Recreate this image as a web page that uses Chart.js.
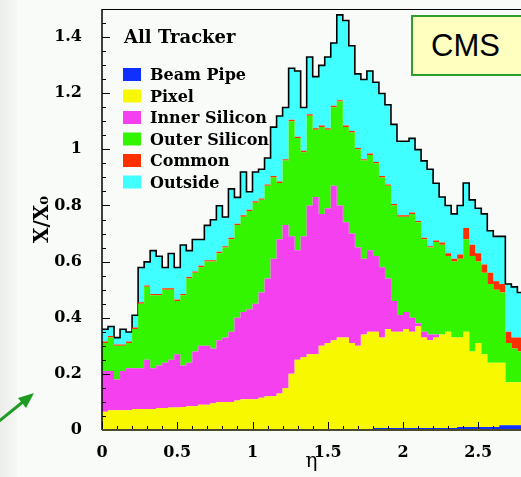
<!DOCTYPE html>
<html>
<head>
<meta charset="utf-8">
<title>All Tracker material budget</title>
<script src="https://cdn.jsdelivr.net/npm/chart.js@4.4.1/dist/chart.umd.min.js"></script>
<style>
  html, body { margin: 0; padding: 0; overflow: hidden; background: #f9fbf9; }
  .page { position: relative; width: 521px; height: 477px; }
  .page canvas { position: absolute; left: 0; top: 0; }
  .strip { position: absolute; left: 0; top: 0; width: 17px; height: 477px; background: linear-gradient(to right, #eceeec, #f5f7f5); }
  .cms { position: absolute; left: 411px; top: 15px; width: 130px; height: 57px; padding-left: 18px;
         background: #ffffbf; border: 2px solid #2e9e2e; font: 31px/57px "Liberation Sans", Arial, sans-serif; color: #000; }
  .arrow { position: absolute; left: 0; top: 380px; }
</style>
</head>
<body>
<div class="page">
  <div class="strip"></div>
  <canvas id="materialChart" width="521" height="477"></canvas>
  <div class="cms">CMS</div>
  <svg class="arrow" width="50" height="60" viewBox="0 380 50 60">
    <line x1="-2" y1="422" x2="24" y2="401" stroke="#1c9c22" stroke-width="3"/>
    <polygon points="34,393 18,398 26,408" fill="#1c9c22"/>
  </svg>
</div>
<script>
// eta bins, 0.04 wide
const binWidth = 0.04;
const etaEdges = Array.from({ length: 71 }, (_, i) => +(i * binWidth).toFixed(2));

// X/X0 per bin for each layer
const beamPipe = [
  0, 0, 0, 0, 0, 0, 0, 0, 0, 0,
  0, 0, 0, 0, 0, 0, 0, 0, 0, 0,
  0, 0, 0, 0, 0, 0, 0, 0, 0, 0,
  0, 0, 0, 0, 0, 0, 0, 0, 0, 0,
  0, 0, 0, 0, 0, 0.007, 0.007, 0.007, 0.007, 0.007,
  0.007, 0.007, 0.007, 0.007, 0.007, 0.007, 0.007, 0.007, 0.007, 0.011,
  0.011, 0.011, 0.011, 0.011, 0.011, 0.011, 0.017, 0.017, 0.017, 0.017
];
const pixel = [
  0.065, 0.07, 0.07, 0.07, 0.07, 0.075, 0.075, 0.075, 0.075, 0.078,
  0.078, 0.08, 0.08, 0.082, 0.085, 0.085, 0.09, 0.09, 0.095, 0.10,
  0.10, 0.10, 0.105, 0.11, 0.11, 0.11, 0.115, 0.12, 0.12, 0.13,
  0.15, 0.20, 0.25, 0.26, 0.27, 0.27, 0.30, 0.31, 0.32, 0.33,
  0.33, 0.31, 0.30, 0.34, 0.35, 0.343, 0.323, 0.353, 0.343, 0.343,
  0.353, 0.343, 0.363, 0.323, 0.313, 0.323, 0.333, 0.343, 0.323, 0.319,
  0.339, 0.269, 0.299, 0.259, 0.229, 0.229, 0.223, 0.153, 0.153, 0.153
];
const innerSilicon = [
  0.145, 0.14, 0.11, 0.14, 0.15, 0.145, 0.145, 0.175, 0.145, 0.152,
  0.162, 0.17, 0.19, 0.148, 0.155, 0.195, 0.21, 0.21, 0.195, 0.22,
  0.23, 0.25, 0.295, 0.31, 0.32, 0.34, 0.375, 0.42, 0.49, 0.55,
  0.58, 0.49, 0.39, 0.43, 0.53, 0.56, 0.47, 0.48, 0.55, 0.47,
  0.41, 0.39, 0.35, 0.27, 0.29, 0.27, 0.25, 0.18, 0.11, 0.06,
  0.06, 0.05, 0.01, 0.02, 0.02, 0.01, 0, 0, 0, 0,
  0, 0, 0, 0, 0, 0, 0, 0, 0, 0
];
const outerSilicon = [
  0.10, 0.12, 0.12, 0.09, 0.09, 0.14, 0.23, 0.26, 0.26, 0.25,
  0.26, 0.25, 0.19, 0.25, 0.30, 0.28, 0.28, 0.30, 0.31, 0.31,
  0.32, 0.33, 0.33, 0.34, 0.35, 0.36, 0.33, 0.33, 0.29, 0.20,
  0.23, 0.41, 0.40, 0.30, 0.32, 0.24, 0.31, 0.28, 0.28, 0.37,
  0.34, 0.36, 0.35, 0.35, 0.34, 0.33, 0.32, 0.33, 0.34, 0.35,
  0.34, 0.37, 0.36, 0.33, 0.31, 0.33, 0.32, 0.27, 0.27, 0.28,
  0.33, 0.34, 0.29, 0.29, 0.28, 0.26, 0.25, 0.14, 0.12, 0.11
];
const common = [
  0.005, 0.005, 0.005, 0.005, 0.005, 0.005, 0.005, 0.005, 0.005, 0.005,
  0.005, 0.005, 0.005, 0.005, 0.005, 0.005, 0.005, 0.005, 0.005, 0.005,
  0.005, 0.005, 0.005, 0.005, 0.005, 0.005, 0.005, 0.005, 0.005, 0.005,
  0.005, 0.005, 0.005, 0.005, 0.005, 0.005, 0.005, 0.005, 0.005, 0.005,
  0.005, 0.005, 0.005, 0.005, 0.005, 0.005, 0.005, 0.005, 0.005, 0.005,
  0.005, 0.005, 0.005, 0.005, 0.005, 0.005, 0.008, 0.01, 0.01, 0.015,
  0.04, 0.04, 0.03, 0.03, 0.04, 0.03, 0.03, 0.04, 0.04, 0.05
];
const outside = [
  0.044, 0.034, 0.024, 0.054, 0.034, 0.044, 0.124, 0.084, 0.154, 0.134,
  0.074, 0.124, 0.114, 0.174, 0.094, 0.114, 0.094, 0.124, 0.144, 0.164,
  0.104, 0.174, 0.094, 0.154, 0.064, 0.104, 0.104, 0.094, 0.174, 0.234,
  0.184, 0.184, 0.234, 0.154, 0.204, 0.184, 0.214, 0.254, 0.224, 0.304,
  0.374, 0.304, 0.264, 0.284, 0.294, 0.284, 0.294, 0.284, 0.284, 0.264,
  0.264, 0.264, 0.254, 0.274, 0.274, 0.204, 0.162, 0.17, 0.16, 0.175,
  0.16, 0.16, 0.16, 0.18, 0.15, 0.16, 0.17, 0.17, 0.18, 0.16
];

const layerNames = ['Beam Pipe', 'Pixel', 'Inner Silicon', 'Outer Silicon', 'Common', 'Outside'];
const layerColors = ['#1030ff', '#f8f800', '#f540f0', '#33f500', '#ff3000', '#40ffff'];
const layers = [beamPipe, pixel, innerSilicon, outerSilicon, common, outside];

const xLabels = [0, 0.5, 1, 1.5, 2, 2.5];
const yLabels = [0, 0.2, 0.4, 0.6, 0.8, 1, 1.2, 1.4];

const near = (v, list) => list.some(t => Math.abs(t - v) < 1e-6);
const onStep = (v, s) => Math.abs(v / s - Math.round(v / s)) < 1e-6;

// histogram as step line: left edge of every bin + closing right edge
function toSteps(vals) {
  const pts = vals.map((v, i) => ({ x: etaEdges[i], y: v }));
  pts.push({ x: etaEdges[vals.length], y: vals[vals.length - 1] });
  return pts;
}

const tickFont = { family: 'DejaVu Serif', weight: 'bold', size: 16 };

// legend sits inside the frame, under the histogram
const boxLegend = {
  id: 'boxLegend',
  beforeDatasetsDraw(chart) {
    const { ctx } = chart;
    ctx.save();
    ctx.fillStyle = '#000';
    ctx.font = 'bold 18px "DejaVu Serif"';
    ctx.fillText('All Tracker', 124, 43);
    ctx.font = 'bold 16px "DejaVu Serif"';
    chart.data.datasets.forEach((ds, i) => {
      const base = 80 + i * 21.5;
      ctx.fillStyle = ds.backgroundColor;
      ctx.fillRect(123, base - 12, 18, 13);
      ctx.fillStyle = '#000';
      ctx.fillText(ds.label, 150, base);
    });
    ctx.restore();
  }
};

// ROOT style inward ticks + frame
const frame = {
  id: 'frame',
  afterDatasetsDraw(chart) {
    const { ctx, chartArea: a, scales: { x, y } } = chart;
    ctx.save();
    ctx.strokeStyle = '#000';
    ctx.lineWidth = 1;
    y.ticks.forEach(t => {
      if (!onStep(t.value, 0.05)) return;
      const py = Math.round(y.getPixelForValue(t.value)) + 0.5;
      const len = near(t.value, yLabels) ? 8 : 4;
      ctx.beginPath();
      ctx.moveTo(a.left, py);
      ctx.lineTo(a.left + len, py);
      ctx.stroke();
    });
    x.ticks.forEach(t => {
      if (!onStep(t.value, 0.1)) return;
      const px = Math.round(x.getPixelForValue(t.value)) + 0.5;
      const len = near(t.value, xLabels) ? 8 : 4;
      ctx.beginPath();
      ctx.moveTo(px, a.bottom);
      ctx.lineTo(px, a.bottom - len);
      ctx.stroke();
    });
    ctx.beginPath();
    ctx.moveTo(a.left, a.top + 0.5);
    ctx.lineTo(a.right, a.top + 0.5);
    ctx.stroke();
    ctx.lineWidth = 1.5;
    ctx.beginPath();
    ctx.moveTo(a.left, a.top);
    ctx.lineTo(a.left, a.bottom);
    ctx.stroke();
    ctx.strokeStyle = '#4b4b2c';
    ctx.lineWidth = 2;
    ctx.beginPath();
    ctx.moveTo(a.left, a.bottom);
    ctx.lineTo(a.right, a.bottom);
    ctx.stroke();
    ctx.restore();
  }
};

new Chart(document.getElementById('materialChart'), {
  type: 'line',
  data: {
    datasets: layers.map((vals, i) => ({
      label: layerNames[i],
      data: toSteps(vals),
      backgroundColor: layerColors[i],
      borderColor: i === 5 ? '#000' : 'transparent',
      borderWidth: i === 5 ? 1.6 : 0,
      fill: i === 0 ? 'origin' : '-1',
      stepped: true,
      pointRadius: 0
    }))
  },
  options: {
    responsive: false,
    animation: false,
    layout: { padding: { top: 9, right: 0, left: 0, bottom: 0 } },
    plugins: { legend: { display: false }, tooltip: { enabled: false } },
    scales: {
      x: {
        type: 'linear',
        min: 0,
        max: 2.784,
        afterFit(s) { s.height = 47; s.paddingLeft = 0; s.paddingRight = 0; },
        grid: { display: false },
        border: { display: false },
        ticks: {
          stepSize: 0.1,
          autoSkip: false,
          maxRotation: 0,
          padding: 5,
          color: '#000',
          font: tickFont,
          callback: v => near(v, xLabels) ? String(+v.toFixed(2)) : ''
        },
        title: {
          display: true,
          text: 'η',
          color: '#000',
          font: { family: 'DejaVu Serif', size: 20 },
          padding: { top: 0, bottom: 3 }
        }
      },
      y: {
        stacked: true,
        min: 0,
        max: 1.5,
        afterFit(s) { s.width = 102; s.paddingTop = 0; s.paddingBottom = 0; },
        grid: { display: false },
        border: { display: false },
        ticks: {
          stepSize: 0.05,
          autoSkip: false,
          padding: 12,
          color: '#000',
          font: tickFont,
          callback: v => near(v, yLabels) ? String(+v.toFixed(2)) : ''
        },
        title: {
          display: true,
          text: 'X/X₀',
          color: '#000',
          font: { family: 'DejaVu Serif', weight: 'bold', size: 20 },
          padding: { top: 31, bottom: 0 }
        }
      }
    }
  },
  plugins: [boxLegend, frame]
});
</script>
</body>
</html>
